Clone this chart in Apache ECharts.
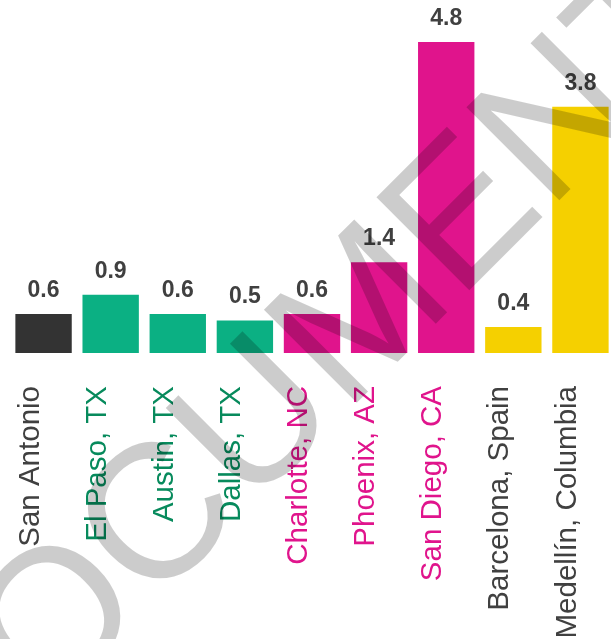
<!DOCTYPE html>
<html>
<head>
<meta charset="utf-8">
<script src="https://cdn.jsdelivr.net/npm/echarts@6/dist/echarts.min.js"></script>
<style>
  html, body { margin: 0; padding: 0; background: #ffffff; }
  #chart { width: 611px; height: 639px; }
</style>
</head>
<body>
<div id="chart"></div>
<script>
// Cities and their values
const categories = [
  'San Antonio', 'El Paso, TX', 'Austin, TX', 'Dallas, TX',
  'Charlotte, NC', 'Phoenix, AZ', 'San Diego, CA',
  'Barcelona, Spain', 'Medellín, Columbia'
];
const values = [0.6, 0.9, 0.6, 0.5, 0.6, 1.4, 4.8, 0.4, 3.8];
const groups = ['home', 'texas', 'texas', 'texas', 'us', 'us', 'us', 'abroad', 'abroad'];

// Colours per group: bar fill and category label
const barColors = { home: '#333333', texas: '#0bb083', us: '#e0148c', abroad: '#f5d000' };
const labelColors = { home: '#404040', texas: '#078a5c', us: '#e0148c', abroad: '#404040' };

const watermarkText = 'DOCUMENT';

const chart = echarts.init(document.getElementById('chart'), null, { renderer: 'canvas' });

chart.setOption({
  animation: false,
  backgroundColor: '#ffffff',
  grid: { left: 10, width: 604, top: 29, bottom: 286, outerBoundsMode: 'none', containLabel: false },
  xAxis: {
    type: 'category',
    data: categories,
    axisLine: { show: false },
    axisTick: { show: false },
    axisLabel: {
      interval: 0,
      rotate: 90,
      margin: 33,
      verticalAlign: 'bottom',
      lineHeight: 26,
      fontFamily: '"Liberation Sans", Arial, sans-serif',
      fontSize: 29.5,
      color: (value, index) => labelColors[groups[index]]
    }
  },
  yAxis: {
    type: 'value',
    min: 0,
    max: 5,
    show: false,
    splitLine: { show: false }
  },
  series: [{
    type: 'bar',
    barCategoryGap: '16%',
    data: values.map((v, i) => ({ value: v, itemStyle: { color: barColors[groups[i]] } })),
    label: {
      show: true,
      position: 'top',
      distance: 12,
      fontFamily: '"Liberation Sans", Arial, sans-serif',
      fontWeight: 'bold',
      fontSize: 23,
      color: '#404040',
      formatter: (p) => p.value.toFixed(1)
    }
  }],
  // Diagonal translucent watermark drawn over the whole chart
  graphic: [{
    type: 'text',
    x: 301,
    y: 384,
    rotation: Math.PI / 4,
    z: 100,
    silent: true,
    style: {
      text: watermarkText,
      font: '191px "Liberation Sans", Arial, sans-serif',
      fill: 'rgba(0,0,0,0.2)',
      align: 'center',
      verticalAlign: 'middle',
      textAlign: 'center',
      textVerticalAlign: 'middle'
    }
  }]
});
</script>
</body>
</html>
